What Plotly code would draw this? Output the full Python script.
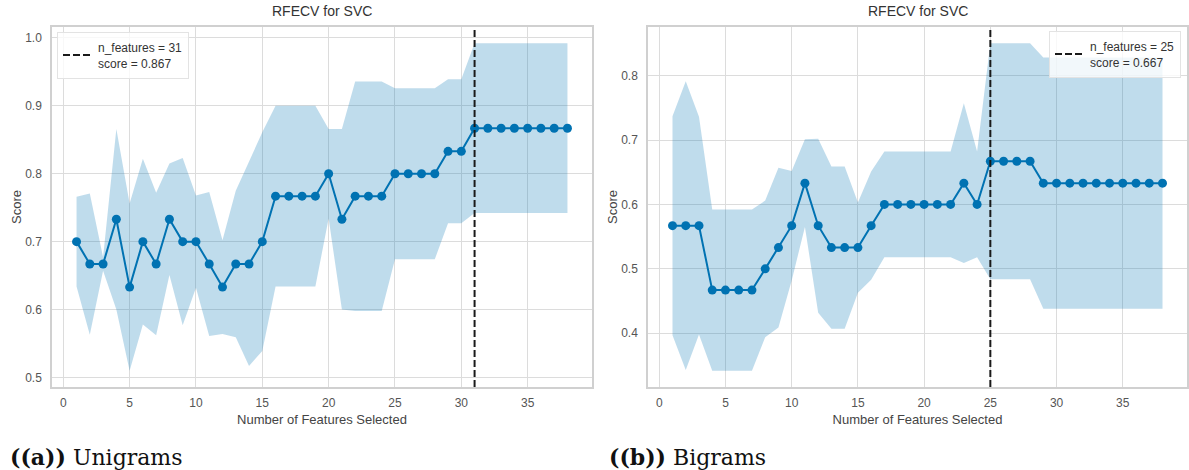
import plotly.graph_objects as go

# ---------------- data ----------------
n_features = list(range(1, 39))

uni_mean = [0.700, 0.667, 0.667, 0.733, 0.633, 0.700, 0.667, 0.733, 0.700, 0.700,
            0.667, 0.633, 0.667, 0.667, 0.700, 0.767, 0.767, 0.767, 0.767, 0.800,
            0.733, 0.767, 0.767, 0.767, 0.800, 0.800, 0.800, 0.800, 0.833, 0.833,
            0.867, 0.867, 0.867, 0.867, 0.867, 0.867, 0.867, 0.867]
uni_std = [0.066, 0.104, 0.010, 0.133, 0.123, 0.122, 0.105, 0.082, 0.123, 0.068,
           0.106, 0.069, 0.108, 0.150, 0.161, 0.133, 0.133, 0.133, 0.133, 0.066,
           0.133, 0.169, 0.169, 0.169, 0.126, 0.126, 0.126, 0.126, 0.106, 0.106,
           0.125, 0.125, 0.125, 0.125, 0.125, 0.125, 0.125, 0.125]
uni_best_n = 31
uni_best_score = 0.867

bi_mean = [0.567, 0.567, 0.567, 0.467, 0.467, 0.467, 0.467, 0.500, 0.533, 0.567,
           0.633, 0.567, 0.533, 0.533, 0.533, 0.567, 0.600, 0.600, 0.600, 0.600,
           0.600, 0.600, 0.633, 0.600, 0.667, 0.667, 0.667, 0.667, 0.633, 0.633,
           0.633, 0.633, 0.633, 0.633, 0.633, 0.633, 0.633, 0.633]
bi_std = [0.170, 0.224, 0.169, 0.125, 0.125, 0.125, 0.125, 0.106, 0.124, 0.085,
          0.068, 0.135, 0.126, 0.126, 0.070, 0.084, 0.082, 0.082, 0.082, 0.082,
          0.082, 0.082, 0.124, 0.082, 0.183, 0.183, 0.183, 0.183, 0.195, 0.195,
          0.195, 0.195, 0.195, 0.195, 0.195, 0.195, 0.195, 0.195]
bi_best_n = 25
bi_best_score = 0.667

title_text = "RFECV for SVC"
x_title = "Number of Features Selected"
y_title = "Score"
captions = [("<b>((a))</b> Unigrams"), ("<b>((b))</b> Bigrams")]

# ---------------- styling ----------------
W, H = 1189, 470
LINE = "#0072B2"
BAND = "rgba(0,114,178,0.25)"
GRID = "#dcdcdc"
FRAME = "#d0d0d0"
FONT = "Liberation Sans"

fig = go.Figure()

panels = [
    dict(mean=uni_mean, std=uni_std, n=uni_best_n, s=uni_best_score,
         xa="x", ya="y", legend="legend", px=(52, 592)),
    dict(mean=bi_mean, std=bi_std, n=bi_best_n, s=bi_best_score,
         xa="x2", ya="y2", legend="legend2", px=(648, 1187)),
]

ytop_px, ybot_px = 27, 387

for i, p in enumerate(panels):
    upper = [m + s for m, s in zip(p["mean"], p["std"])]
    lower = [m - s for m, s in zip(p["mean"], p["std"])]
    lo, hi = min(lower), max(upper)
    pad = 0.05 * (hi - lo)
    yr = [lo - pad, hi + pad]
    xpad = 0.05 * (max(n_features) - min(n_features))
    xr = [min(n_features) - xpad, max(n_features) + xpad]
    p["yr"], p["xr"] = yr, xr

    fig.add_trace(go.Scatter(x=n_features, y=lower, mode="lines",
                             line=dict(width=0, color=BAND), hoverinfo="skip",
                             showlegend=False, xaxis=p["xa"], yaxis=p["ya"]))
    fig.add_trace(go.Scatter(x=n_features, y=upper, mode="lines", fill="tonexty",
                             fillcolor=BAND, line=dict(width=0, color=BAND),
                             hoverinfo="skip", showlegend=False,
                             xaxis=p["xa"], yaxis=p["ya"]))
    fig.add_trace(go.Scatter(x=n_features, y=p["mean"], mode="lines+markers",
                             line=dict(color=LINE, width=2),
                             marker=dict(color=LINE, size=9),
                             showlegend=False, xaxis=p["xa"], yaxis=p["ya"]))
    fig.add_trace(go.Scatter(x=[p["n"], p["n"]], y=yr, mode="lines",
                             line=dict(color="#1a1a1a", width=2, dash="7px,3px"),
                             name=f"n_features = {p['n']}<br>score = {p['s']:.3f}",
                             showlegend=True, legend=p["legend"],
                             xaxis=p["xa"], yaxis=p["ya"]))

ydom = [(H - ybot_px) / H, (H - ytop_px) / H]

def xaxis_cfg(p, anchor):
    return dict(domain=[p["px"][0] / W, p["px"][1] / W], range=p["xr"], anchor=anchor,
                tick0=0, dtick=5, showgrid=True, gridcolor=GRID, gridwidth=1,
                zeroline=False, showline=True, linecolor=FRAME, linewidth=1.5,
                mirror=True, ticks="", ticklabelstandoff=4,
                tickfont=dict(family=FONT, size=12, color="#555555"),
                title=dict(text=x_title, standoff=6,
                           font=dict(family=FONT, size=13, color="#444444")))

def yaxis_cfg(p, anchor, dtick0):
    return dict(domain=ydom, range=p["yr"], anchor=anchor, tick0=dtick0, dtick=0.1,
                tickformat=".1f", showgrid=True, gridcolor=GRID, gridwidth=1,
                zeroline=False, showline=True, linecolor=FRAME, linewidth=1.5,
                mirror=True, ticks="", ticklabelstandoff=6,
                tickfont=dict(family=FONT, size=12, color="#555555"),
                title=dict(text=y_title, standoff=1,
                           font=dict(family=FONT, size=13, color="#444444")))

legend_common = dict(bgcolor="rgba(255,255,255,0.8)", bordercolor="#e3e3e3", borderwidth=1,
                     font=dict(family=FONT, size=12, color="#333333"),
                     valign="middle", yanchor="top", itemwidth=30,
                     tracegroupgap=0)

fig.update_layout(
    width=W, height=H,
    margin=dict(l=0, r=0, t=0, b=0),
    paper_bgcolor="white", plot_bgcolor="white",
    xaxis=xaxis_cfg(panels[0], "y"),
    yaxis=yaxis_cfg(panels[0], "x", 0.5),
    xaxis2=xaxis_cfg(panels[1], "y2"),
    yaxis2=yaxis_cfg(panels[1], "x2", 0.4),
    legend=dict(x=57 / W, y=(H - 32) / H, xanchor="left", **legend_common),
    legend2=dict(x=1181 / W, y=(H - 31) / H, xanchor="right", **legend_common),
    showlegend=True,
)

for p in panels:
    cx = (p["px"][0] + p["px"][1]) / 2 / W
    fig.add_annotation(text=title_text, x=cx, y=(H - 11) / H, xref="paper", yref="paper",
                       xanchor="center", yanchor="middle", showarrow=False,
                       font=dict(family=FONT, size=14, color="#333333"))

for text, x0 in zip(captions, [8, 607]):
    fig.add_annotation(text=text, x=x0 / W, y=(H - 457) / H, xref="paper", yref="paper",
                       xanchor="left", yanchor="middle", showarrow=False,
                       font=dict(family="DejaVu Serif", size=22, color="#111111"))

fig.write_html("out.html")
